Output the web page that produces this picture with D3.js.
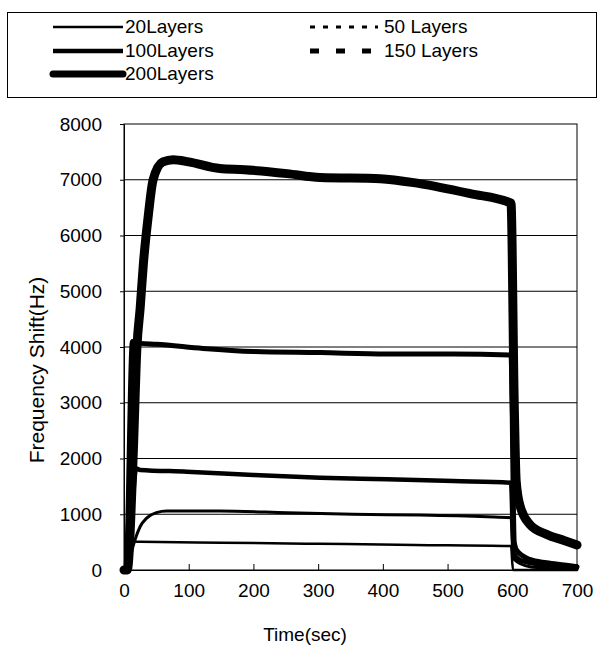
<!DOCTYPE html>
<html>
<head>
<meta charset="utf-8">
<script src="https://cdn.jsdelivr.net/npm/d3@7"></script>
<style>
  body { margin: 0; background: #fff; }
  text { font-family: "Liberation Sans", Arial, sans-serif; fill: #000; }
</style>
</head>
<body>
<div class="chart"></div>
<script>
// Frequency shift vs time (time in sec, shift in Hz)
var layers20 = [[0, 0], [5, 0], [15, 510], [25, 508], [150, 490], [300, 470], [450, 450], [598, 430], [601, 0], [700, 0]];
var layers50 = [[0, 0], [5, 0], [10, 250], [17, 540], [25, 780], [35, 930], [50, 1030], [66, 1058], [148, 1058],
  [252, 1028], [354, 998], [457, 986], [561, 956], [598, 938], [602, 200], [627, 60], [660, 30], [700, 15]];
var layers100 = [[0, 0], [5, 0], [19, 1820], [25, 1795], [97, 1764], [200, 1704], [303, 1656], [406, 1627],
  [509, 1596], [598, 1566], [602, 300], [612, 180], [640, 100], [700, 40]];
var layers150 = [[0, 0], [3, 0], [13, 4100], [25, 4065], [50, 4050], [122, 3975], [200, 3920], [303, 3900],
  [406, 3875], [509, 3875], [598, 3855], [603, 500], [607, 350], [627, 190], [653, 130], [680, 90], [700, 60]];
var layers200 = [[0, 0], [5, 0], [14, 2000], [20, 4000], [25, 4700], [30, 5500], [37, 6300], [45, 7000], [60, 7320],
  [76, 7360], [100, 7320], [148, 7200], [186, 7180], [252, 7110], [303, 7040], [396, 7020], [457, 6930],
  [535, 6750], [598, 6580], [603, 3000], [606, 1600], [612, 1150], [627, 820], [653, 640], [680, 530], [700, 450]];

var seriesNames = ["20Layers", "50 Layers", "100Layers", "150 Layers", "200Layers"];
var seriesData = [layers20, layers50, layers100, layers150, layers200];

var xTicks = [0, 100, 200, 300, 400, 500, 600, 700];
var yTicks = [0, 1000, 2000, 3000, 4000, 5000, 6000, 7000, 8000];

var svgWidth = 598;
var svgHeight = 648;

var margin = { top: 124, right: 21, bottom: 78, left: 124 };
var width = svgWidth - margin.left - margin.right;
var height = svgHeight - margin.top - margin.bottom;

// line look for each series (legend swatch and plot)
var styles = {
  "20Layers":   { w: 2.5, dash: null },
  "50 Layers":  { w: 3,   dash: "5,8" },
  "100Layers":  { w: 4.5, dash: null },
  "150 Layers": { w: 5,   dash: "9,17" },
  "200Layers":  { w: 9,   dash: null }
};

var svg = d3.select(".chart")
  .append("svg")
  .attr("width", svgWidth)
  .attr("height", svgHeight);

var chartGroup = svg.append("g")
  .attr("transform", `translate(${margin.left}, ${margin.top})`);

var xScale = d3.scaleLinear().domain([0, 700]).range([0, width]);
var yScale = d3.scaleLinear().domain([0, 8000]).range([height, 0]);

// gridlines
chartGroup.append("g")
  .selectAll("line")
  .data(yTicks.slice(1, -1))
  .enter()
  .append("line")
  .attr("x1", 0)
  .attr("x2", width)
  .attr("y1", d => yScale(d))
  .attr("y2", d => yScale(d))
  .attr("stroke", "#000")
  .attr("stroke-width", 1);

// plot frame
chartGroup.append("rect")
  .attr("width", width)
  .attr("height", height)
  .attr("fill", "none")
  .attr("stroke", "#000")
  .attr("stroke-width", 1);

// axes
var bottomAxis = d3.axisBottom(xScale).tickValues(xTicks).tickFormat(d3.format("d"))
  .tickSizeInner(-6).tickSizeOuter(0).tickPadding(14);
var leftAxis = d3.axisLeft(yScale).tickValues(yTicks).tickFormat(d3.format("d"))
  .tickSizeInner(4).tickSizeOuter(0).tickPadding(18);

var xAxis = chartGroup.append("g")
  .attr("transform", `translate(0, ${height})`)
  .call(bottomAxis);
var yAxis = chartGroup.append("g")
  .call(leftAxis);

[xAxis, yAxis].forEach(function(ax) {
  ax.select(".domain").attr("stroke", "#000");
  ax.selectAll(".tick line").attr("stroke", "#000");
  ax.selectAll("text")
    .attr("font-family", "Liberation Sans, Arial, sans-serif")
    .attr("font-size", "19px")
    .attr("fill", "#000");
});

// series lines
var line = d3.line()
  .x(d => xScale(d[0]))
  .y(d => yScale(d[1]))
  .curve(d3.curveMonotoneX);

seriesData.forEach(function(data, i) {
  var st = styles[seriesNames[i]];
  chartGroup.append("path")
    .datum(data)
    .attr("d", line)
    .attr("fill", "none")
    .attr("stroke", "#000")
    .attr("stroke-width", st.w)
    .attr("stroke-linejoin", "round")
    .attr("stroke-linecap", "round");
});

// axis titles
svg.append("text")
  .attr("x", 305)
  .attr("y", 641)
  .attr("text-anchor", "middle")
  .attr("font-size", "19px")
  .text("Time(sec)");

svg.append("text")
  .attr("transform", "translate(44, 370) rotate(-90)")
  .attr("text-anchor", "middle")
  .attr("font-size", "21px")
  .text("Frequency Shift(Hz)");

// legend
var legend = svg.append("g");
legend.append("rect")
  .attr("x", 7.5)
  .attr("y", 12.5)
  .attr("width", 589)
  .attr("height", 85)
  .attr("fill", "none")
  .attr("stroke", "#000")
  .attr("stroke-width", 1);

var legendPos = [
  { x1: 53, x2: 123, y: 27 },
  { x1: 310, x2: 378, y: 27 },
  { x1: 53, x2: 123, y: 51 },
  { x1: 310, x2: 373, y: 51 },
  { x1: 53, x2: 123, y: 74 }
];

seriesNames.forEach(function(name, i) {
  var st = styles[name];
  var p = legendPos[i];
  legend.append("line")
    .attr("x1", p.x1)
    .attr("x2", p.x2)
    .attr("y1", p.y)
    .attr("y2", p.y)
    .attr("stroke", "#000")
    .attr("stroke-width", name == "200Layers" ? 7 : st.w)
    .attr("stroke-dasharray", st.dash)
    .attr("stroke-linecap", name == "200Layers" ? "round" : "butt");
  legend.append("text")
    .attr("x", p.x1 < 200 ? 125 : 384)
    .attr("y", p.y + 6)
    .attr("font-size", "19px")
    .text(name);
});
</script>
</body>
</html>
